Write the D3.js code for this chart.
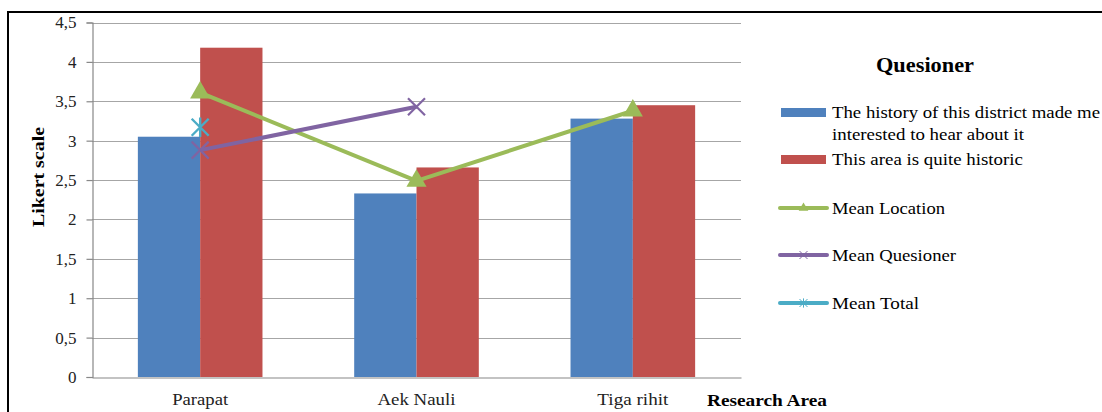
<!DOCTYPE html>
<html>
<head>
<meta charset="utf-8">
<script src="https://cdn.jsdelivr.net/npm/d3@7"></script>
<style>
  html, body { margin: 0; padding: 0; background: #fff; }
  svg { display: block; font-family: "Liberation Serif", "Times New Roman", serif; }
</style>
</head>
<body>
<svg id="chart" width="1102" height="412"></svg>
<script>
// Research areas along the x axis
const categories = ["Parapat", "Aek Nauli", "Tiga rihit"];

// Bar series (Likert scale means per statement)
const barSeries = [
  "The history of this district made me interested to hear about it",
  "This area is quite historic"
];
const historyValues  = [3.05, 2.33, 3.28];
const historicValues = [4.18, 2.66, 3.45];

// Line series (null = no value for that area)
const meanLocation   = [3.61, 2.49, 3.38];
const meanQuesioner  = [2.88, 3.43, null];
const meanTotal      = [3.17, null, null];

// Y axis ticks
const yTicks = [0, 0.5, 1, 1.5, 2, 2.5, 3, 3.5, 4, 4.5];
const yTickLabels = ["0", "0,5", "1", "1,5", "2", "2,5", "3", "3,5", "4", "4,5"];

const colors = {
  blue: "#4F81BD", red: "#C0504D", green: "#9BBB59", purple: "#8064A2", cyan: "#4BACC6"
};

const svg = d3.select("#chart");

// outer frame
svg.append("rect")
  .attr("x", 8).attr("y", 12).attr("width", 1100).attr("height", 410)
  .attr("fill", "none").attr("stroke", "#000").attr("stroke-width", 2);

const plot = { left: 92, right: 741, top: 22.5, bottom: 377 };

const x0 = d3.scaleBand().domain(categories).range([plot.left, plot.right]).padding(0);
const x1 = d3.scaleBand().domain(barSeries).range([0, x0.bandwidth()])
  .paddingInner(0).paddingOuter(0.736);
const y = d3.scaleLinear().domain([0, 4.5]).range([plot.bottom, plot.top]);

// stretch a text element to a given width
function fit(sel, w) {
  return sel.attr("textLength", w).attr("lengthAdjust", "spacingAndGlyphs");
}

// gridlines
svg.append("g").selectAll("line").data(yTicks.filter(t => t > 0)).join("line")
  .attr("x1", plot.left).attr("x2", plot.right)
  .attr("y1", d => Math.round(y(d)) + 0.5).attr("y2", d => Math.round(y(d)) + 0.5)
  .attr("stroke", "#a6a6a6").attr("stroke-width", 1.2);

// y axis
const yAxis = d3.axisLeft(y).tickValues(yTicks)
  .tickFormat((d, i) => yTickLabels[i]).tickSize(6).tickPadding(10);
const gy = svg.append("g").attr("transform", `translate(${plot.left + 0.5},0)`).call(yAxis);
gy.select(".domain").attr("stroke", "#888").attr("stroke-width", 1.2);
gy.selectAll(".tick line").attr("stroke", "#888").attr("stroke-width", 1.2);
gy.selectAll(".tick text").attr("font-size", 17).attr("fill", "#222")
  .attr("font-family", "Liberation Serif, serif");

// bars
const barData = categories.map((c, i) => ({
  cat: c,
  vals: [
    { s: barSeries[0], v: historyValues[i], color: colors.blue },
    { s: barSeries[1], v: historicValues[i], color: colors.red }
  ]
}));
svg.append("g").selectAll("g").data(barData).join("g")
  .attr("transform", d => `translate(${x0(d.cat)},0)`)
  .selectAll("rect").data(d => d.vals).join("rect")
  .attr("x", d => x1(d.s)).attr("width", x1.bandwidth())
  .attr("y", d => y(d.v)).attr("height", d => y(0) - y(d.v))
  .attr("fill", d => d.color);

// x axis
const catWidths = { "Parapat": 56, "Aek Nauli": 78, "Tiga rihit": 71 };
const xAxis = d3.axisBottom(x0).tickSize(0).tickPadding(15);
const gx = svg.append("g").attr("transform", `translate(0,${plot.bottom + 0.5})`).call(xAxis);
gx.select(".domain").attr("stroke", "#888").attr("stroke-width", 1.2);
gx.selectAll(".tick text").attr("font-size", 17).attr("fill", "#222")
  .attr("font-family", "Liberation Serif, serif")
  .each(function (d) { fit(d3.select(this), catWidths[d]); });

// marker shapes
const triangle = d3.symbol().type(d3.symbolTriangle).size(175);
function xMark(g, s, color, w) {
  g.append("path").attr("d", `M${-s},${-s}L${s},${s}M${-s},${s}L${s},${-s}`)
    .attr("stroke", color).attr("stroke-width", w).attr("fill", "none");
}
function starMark(g, s, color, w) {
  g.append("path").attr("d", `M${-s},${-s}L${s},${s}M${-s},${s}L${s},${-s}M0,${-s * 1.15}L0,${s * 1.15}`)
    .attr("stroke", color).attr("stroke-width", w).attr("fill", "none");
}

const cx = c => x0(c) + x0.bandwidth() / 2;
const lineGen = d3.line().defined(d => d.v != null).x(d => cx(d.c)).y(d => y(d.v));

function drawLine(values, color, marker) {
  const pts = categories.map((c, i) => ({ c, v: values[i] }));
  svg.append("path").datum(pts).attr("d", lineGen)
    .attr("fill", "none").attr("stroke", color).attr("stroke-width", 4)
    .attr("stroke-linejoin", "round");
  pts.filter(d => d.v != null).forEach(d => {
    const g = svg.append("g").attr("transform", `translate(${cx(d.c)},${y(d.v)})`);
    marker(g);
  });
}

drawLine(meanLocation, colors.green,
  g => g.append("path").attr("d", triangle()).attr("fill", colors.green));
drawLine(meanQuesioner, colors.purple, g => xMark(g, 8.5, colors.purple, 2.2));
drawLine(meanTotal, colors.cyan, g => starMark(g, 8.5, colors.cyan, 2.4));

// axis titles
fit(svg.append("text")
  .attr("transform", "translate(44,177) rotate(-90)")
  .attr("text-anchor", "middle").attr("font-weight", "bold").attr("font-size", 17)
  .text("Likert scale"), 100);
fit(svg.append("text")
  .attr("x", 707).attr("y", 406).attr("font-weight", "bold").attr("font-size", 17)
  .text("Research Area"), 120);

// legend
const legend = svg.append("g");
fit(legend.append("text").attr("x", 876).attr("y", 72)
  .attr("font-weight", "bold").attr("font-size", 20).text("Quesioner"), 98);

const lx = 781, lw = 45, tx = 832;
legend.append("rect").attr("x", lx).attr("y", 108).attr("width", lw).attr("height", 9).attr("fill", colors.blue);
fit(legend.append("text").attr("x", tx).attr("y", 118).attr("font-size", 17)
  .text("The history of this district made me"), 268);
fit(legend.append("text").attr("x", tx).attr("y", 140).attr("font-size", 17)
  .text("interested to hear about it"), 192);
legend.append("rect").attr("x", lx).attr("y", 155).attr("width", lw).attr("height", 9).attr("fill", colors.red);
fit(legend.append("text").attr("x", tx).attr("y", 165).attr("font-size", 17)
  .text(barSeries[1]), 191);

const lineItems = [
  { label: "Mean Location", w: 113, color: colors.green, yc: 208,
    mk: g => g.append("path").attr("d", d3.symbol().type(d3.symbolTriangle).size(40)()).attr("fill", colors.green) },
  { label: "Mean Quesioner", w: 124, color: colors.purple, yc: 255, mk: g => xMark(g, 4, colors.purple, 1) },
  { label: "Mean Total", w: 87, color: colors.cyan, yc: 303, mk: g => starMark(g, 4, colors.cyan, 1) }
];
lineItems.forEach(it => {
  legend.append("line").attr("x1", lx - 1).attr("x2", lx + lw + 1)
    .attr("y1", it.yc).attr("y2", it.yc)
    .attr("stroke", it.color).attr("stroke-width", 4).attr("stroke-linecap", "round");
  const g = legend.append("g").attr("transform", `translate(${lx + lw / 2},${it.yc})`);
  it.mk(g);
  fit(legend.append("text").attr("x", tx).attr("y", it.yc + 6).attr("font-size", 17).text(it.label), it.w);
});
</script>
</body>
</html>
